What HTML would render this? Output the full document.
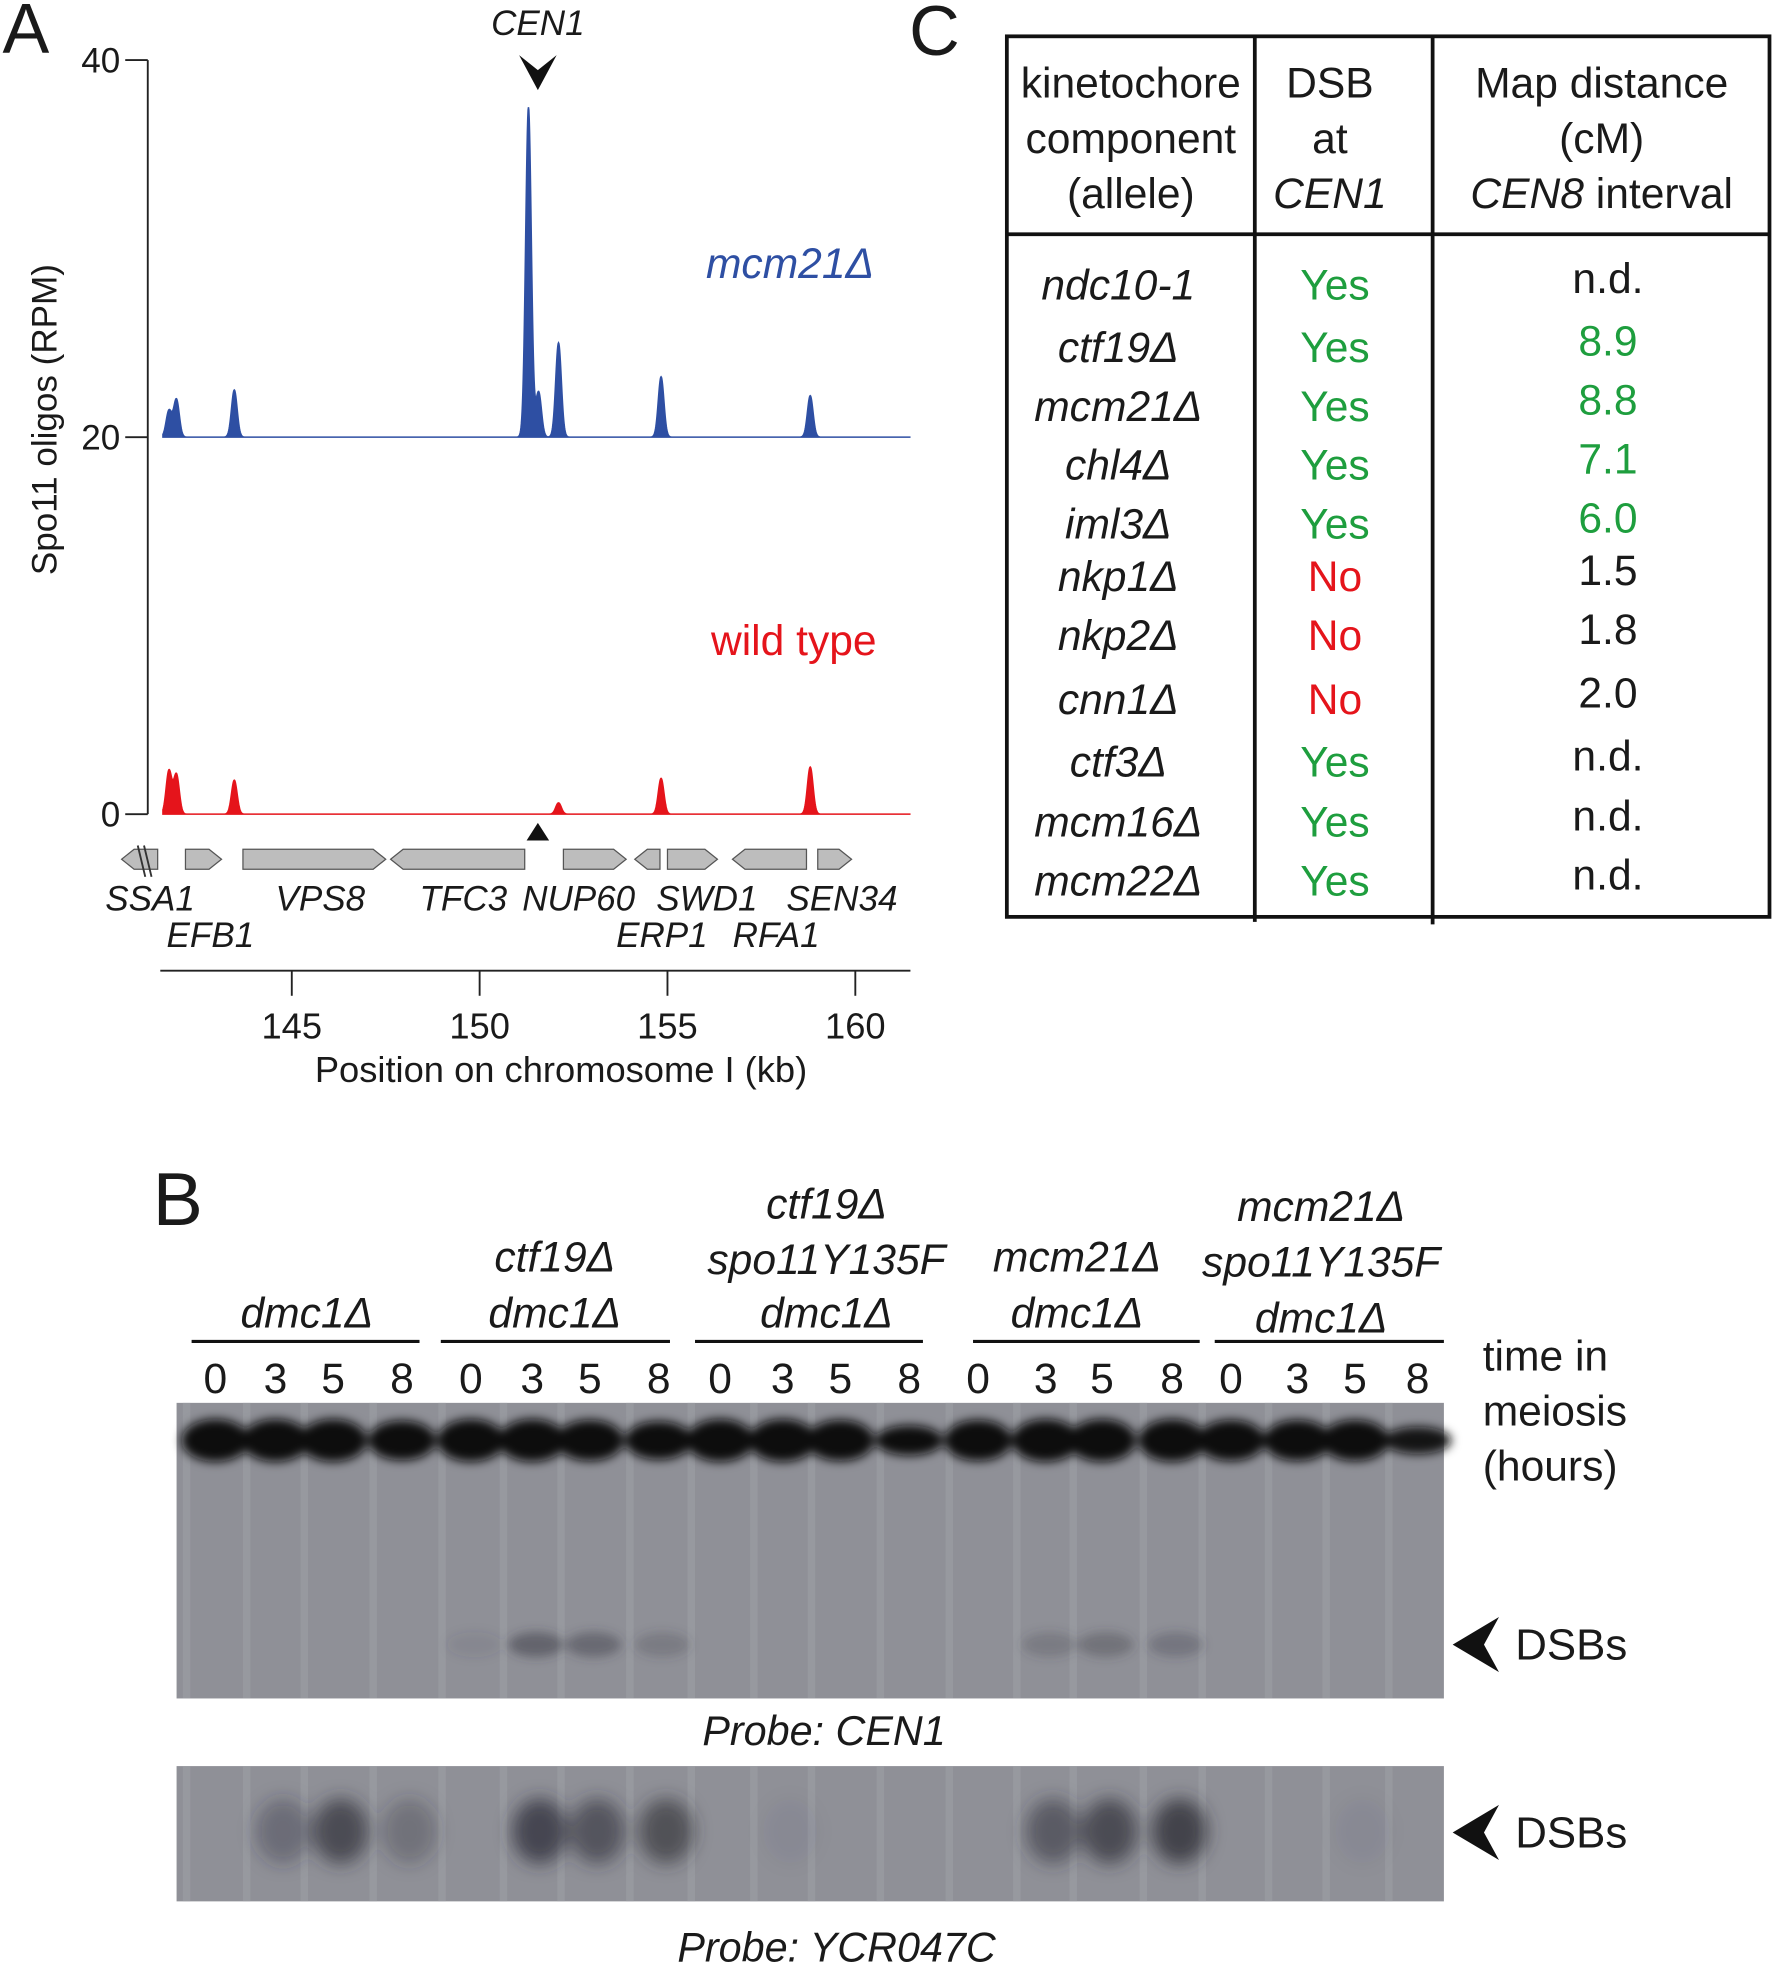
<!DOCTYPE html>
<html><head><meta charset="utf-8"><style>
html,body{margin:0;padding:0;background:#fff}
svg{display:block}
text{font-family:"Liberation Sans",sans-serif;fill:#1a1a1a}
.it{font-style:italic}
</style></head><body>
<svg id="fig" width="1772" height="1964" viewBox="0 0 1415 1568" preserveAspectRatio="none" xmlns="http://www.w3.org/2000/svg">
<defs>
<filter id="blur4" x="-50%" y="-50%" width="200%" height="200%"><feGaussianBlur stdDeviation="4"/></filter>
<filter id="blur8" x="-50%" y="-50%" width="200%" height="200%"><feGaussianBlur stdDeviation="7"/></filter>
</defs>
<text x="2" y="42" font-size="56">A</text>
<g id="panelA"></g>
<text x="726" y="44" font-size="56">C</text>
<g id="panelC"></g>
<text x="122" y="978" font-size="60">B</text>
<g id="panelB"></g>
</svg>
<script>
// ---- Panel A data ----
const blueBase = 20;
const bluePeakPos = [141.73, 141.93, 143.47, 151.3, 151.57, 152.1, 154.83, 158.8];
const bluePeakVal = [1.4, 2.0, 2.5, 17.5, 2.4, 5.0, 3.2, 2.2];
const redBase = 0;
const redPeakPos = [141.73, 141.93, 143.47, 152.1, 154.83, 158.8];
const redPeakVal = [2.3, 2.1, 1.8, 0.6, 1.9, 2.5];
const yTicks = [0, 20, 40];
const xTicks = [145, 150, 155, 160];
const genes = [
 {name:'SSA1', start:140.47, end:141.43, dir:-1, lx:84, ly:727},
 {name:'EFB1', start:142.17, end:143.13, dir:1, lx:133, ly:756},
 {name:'VPS8', start:143.7, end:147.5, dir:1, lx:220, ly:727},
 {name:'TFC3', start:147.63, end:151.2, dir:-1, lx:335, ly:727},
 {name:'NUP60', start:152.23, end:153.9, dir:1, lx:417, ly:727},
 {name:'ERP1', start:154.13, end:154.8, dir:-1, lx:492, ly:756},
 {name:'SWD1', start:155.0, end:156.33, dir:1, lx:524, ly:727},
 {name:'RFA1', start:156.73, end:158.7, dir:-1, lx:585, ly:756},
 {name:'SEN34', start:159.0, end:159.9, dir:1, lx:628, ly:727}
];
const cenPos = 151.55;

const NS='http://www.w3.org/2000/svg';
function mk(tag, attrs, parent, txt){const e=document.createElementNS(NS,tag);for(const k in attrs)e.setAttribute(k,attrs[k]);if(txt!==undefined)e.textContent=txt;parent.appendChild(e);return e;}
const xs = kb => 233 + (kb-145)*30.0;
const ys = v => 650 - v*15.05;

const A = document.getElementById('panelA');
let yAxis = mk('line',{x1:118,y1:ys(40),x2:118,y2:ys(0),stroke:'#222','stroke-width':1.5},A);


yTicks.forEach(t=>{
  let l=mk('line',{x1:100,y1:ys(t),x2:118,y2:ys(t),stroke:'#222','stroke-width':1.5},A);
  
  
  let tx=mk('text',{x:96,y:ys(t)+10,'font-size':28,'text-anchor':'end'},A,String(t));
  
  
});
let yt=mk('text',{x:0,y:0,'font-size':28,'text-anchor':'middle',transform:'translate(45,335) rotate(-90)'},A,'Spo11 oligos (RPM)');



function trace(base, pos, val, color, name){
  const k0=141.57, k1=161.47;
  let d='M'+xs(k0)+','+ys(base);
  const sig=0.075;
  for(let kb=k0; kb<=k1; kb+=0.01){
    let v=base;
    for(let i=0;i<pos.length;i++){const dx=(kb-pos[i])/sig; v+=val[i]*Math.exp(-0.5*dx*dx);}
    d+=' L'+xs(kb).toFixed(2)+','+ys(v).toFixed(2);
  }
  d+=' L'+xs(k1)+','+ys(base)+' Z';
  let p=mk('path',{d:d,fill:color,stroke:color,'stroke-width':1.2},A);
  
  
}
trace(blueBase, bluePeakPos, bluePeakVal, '#2e4fa3', 'mcm21-trace');
trace(redBase, redPeakPos, redPeakVal, '#e5141b', 'wild-type-trace');

let lb=mk('text',{x:698,y:222,'font-size':34,'text-anchor':'end',class:'it'},A,'mcm21Δ');
 
lb.style.fill='#2e4fa3';
let lr=mk('text',{x:700,y:523,'font-size':34,'text-anchor':'end'},A,'wild type');
 
lr.style.fill='#e5141b';
let cl=mk('text',{x:xs(cenPos),y:28,'font-size':28,'text-anchor':'middle',class:'it'},A,'CEN1');
 
let ca=mk('path',{d:`M${xs(cenPos)-15},44 L${xs(cenPos)},56 L${xs(cenPos)+15},44 L${xs(cenPos)},72 Z`,fill:'#111'},A);
 
let ct=mk('path',{d:`M${xs(cenPos)-9},671 L${xs(cenPos)+9},671 L${xs(cenPos)},657 Z`,fill:'#111'},A);
 

genes.forEach(g=>{
  const x0=xs(g.start), x1=xs(g.end), yc=686, h=8, tip=10;
  let d = g.dir>0 ? `M${x0},${yc-h} L${x1-tip},${yc-h} L${x1},${yc} L${x1-tip},${yc+h} L${x0},${yc+h} Z`
                  : `M${x0+tip},${yc-h} L${x1},${yc-h} L${x1},${yc+h} L${x0+tip},${yc+h} L${x0},${yc} Z`;
  let p=mk('path',{d:d,fill:'#bdbdbd',stroke:'#555','stroke-width':1},A);
  
  
  let t=mk('text',{x:g.lx,y:g.ly,'font-size':28,class:'it'},A,g.name);
  
  
});
let brk=mk('path',{d:'M110,675 L116,700 M115,675 L121,700',stroke:'#333','stroke-width':1.5,fill:'none'},A);
 

let xa=mk('line',{x1:128,y1:775,x2:727,y2:775,stroke:'#222','stroke-width':1.5},A);
 
xTicks.forEach(t=>{
  let l=mk('line',{x1:xs(t),y1:775,x2:xs(t),y2:795,stroke:'#222','stroke-width':1.5},A);
   
  let tx=mk('text',{x:xs(t),y:829,'font-size':29,'text-anchor':'middle'},A,String(t));
   
});
let xt=mk('text',{x:448,y:864,'font-size':29,'text-anchor':'middle'},A,'Position on chromosome I (kb)');
 

// ---- Panel C data ----
const alleles = ['ndc10-1','ctf19Δ','mcm21Δ','chl4Δ','iml3Δ','nkp1Δ','nkp2Δ','cnn1Δ','ctf3Δ','mcm16Δ','mcm22Δ'];
const dsb = ['Yes','Yes','Yes','Yes','Yes','No','No','No','Yes','Yes','Yes'];
const mapDist = ['n.d.','8.9','8.8','7.1','6.0','1.5','1.8','2.0','n.d.','n.d.','n.d.'];
const rowY = [227,277,324,371,418,460,507,558,608,656,703];
const C=document.getElementById('panelC');
let box=mk('rect',{x:804,y:29,width:609,height:703,fill:'none',stroke:'#111','stroke-width':3},C);
 
[[1002,736],[1144,738]].forEach(([x,y2])=>{let l=mk('line',{x1:x,y1:29,x2:x,y2:y2,stroke:'#111','stroke-width':3},C);
  });
let hl=mk('line',{x1:804,y1:187,x2:1413,y2:187,stroke:'#111','stroke-width':3},C);
 
const hdr=[[903,['kinetochore','component','(allele)'],[0,0,0]],[1062,['DSB','at','CEN1'],[0,0,1]],[1279,['Map distance','(cM)','CEN8 interval'],[0,0,2]]];
hdr.forEach(([x,lines,st])=>{lines.forEach((s,i)=>{
  let t=mk('text',{x:x,y:78+i*44,'font-size':34,'text-anchor':'middle'},C);
  if(st[i]===1){t.setAttribute('class','it');t.textContent=s;}
  else if(st[i]===2){mk('tspan',{class:'it'},t,'CEN8');mk('tspan',{},t,' interval');}
  else t.textContent=s;
   
});});
alleles.forEach((a,i)=>{
  let t=mk('text',{x:893,y:rowY[i]+12,'font-size':34,'text-anchor':'middle',class:'it'},C,a);
   
  let d=mk('text',{x:1066,y:rowY[i]+12,'font-size':34,'text-anchor':'middle'},C,dsb[i]);
  d.style.fill = dsb[i]==='Yes' ? '#1e9e3e' : '#e5141b';
   
  let m=mk('text',{x:1284,y:rowY[i]+7,'font-size':34,'text-anchor':'middle'},C,mapDist[i]);
  if(i>=1&&i<=4) m.style.fill='#1e9e3e';
   
});

// ---- Panel B data ----
const laneX = [172,220,266,321,376,425,471,526,575,625,671,726,781,835,880,936,983,1036,1082,1132];
const laneTime = ['0','3','5','8','0','3','5','8','0','3','5','8','0','3','5','8','0','3','5','8'];
const topBand = [1,1,1,0.9,1,1,0.95,0.85,1,1,0.95,0.55,0.95,1,1,1,0.95,0.95,0.95,0.45];
const cenDSB = [0,0,0,0,0.1,0.5,0.45,0.25,0,0,0,0,0,0.25,0.35,0.3,0,0,0,0];
const ycrDSB = [0,0.35,0.7,0.3,0,0.75,0.6,0.65,0,0.05,0,0,0,0.55,0.7,0.8,0,0,0.05,0];
const groupLines = [[153,335],[352,535],[555,737],[777,958],[970,1153]];
const groupLabels = [[245,[['dmc1Δ',1048]]],[443,[['ctf19Δ',1003],['dmc1Δ',1048]]],[660,[['ctf19Δ',961],['spo11Y135F',1005],['dmc1Δ',1048]]],[860,[['mcm21Δ',1003],['dmc1Δ',1048]]],[1055,[['mcm21Δ',963],['spo11Y135F',1007],['dmc1Δ',1052]]]];
const B=document.getElementById('panelB');
groupLines.forEach(([a,b])=>{let l=mk('line',{x1:a,y1:1071,x2:b,y2:1071,stroke:'#111','stroke-width':2.5},B);
  });
groupLabels.forEach(([x,ls])=>ls.forEach(([s,y])=>{let t=mk('text',{x:x,y:y+12,'font-size':34,'text-anchor':'middle',class:'it'},B,s);
  }));
laneX.forEach((x,i)=>{let t=mk('text',{x:x,y:1112,'font-size':34,'text-anchor':'middle'},B,laneTime[i]);
  });
['time in','meiosis','(hours)'].forEach((s,i)=>{let t=mk('text',{x:1184,y:1094+i*44,'font-size':34},B,s);
  });
function gel(y0,h,name){
  let g=mk('g',{},B);  
  mk('rect',{x:141,y:y0,width:1012,height:h,fill:'#8f9097'},g);
  laneX.forEach(x=>{mk('rect',{x:x-26,y:y0,width:6,height:h,fill:'#a0a1a8',opacity:0.5},g);});
  return g;
}
let g1=gel(1120,236,'cen1-blot');
let gb=mk('g',{filter:'url(#blur4)'},g1);
laneX.forEach((x,i)=>{let e=mk('ellipse',{cx:x,cy:1150,rx:27,ry:6+11*topBand[i],fill:'#0d0d10',opacity:Math.min(1,0.5+topBand[i])},gb);
  });
let gd=mk('g',{filter:'url(#blur4)'},g1);
laneX.forEach((x,i)=>{let e=mk('ellipse',{cx:x+3,cy:1313,rx:22,ry:10,fill:'#3a3a44',opacity:cenDSB[i]},gd);
  });
let g2=gel(1410,108,'ycr047c-blot');
let gd2=mk('g',{filter:'url(#blur8)'},g2);
laneX.forEach((x,i)=>{let e=mk('ellipse',{cx:x+6,cy:1462,rx:22,ry:26,fill:'#2e2e38',opacity:ycrDSB[i]},gd2);
  });
[[1313],[1463]].forEach(([y])=>{
  let a=mk('path',{d:`M1160,${y} L1197,${y-22} L1185,${y} L1197,${y+22} Z`,fill:'#111'},B);
   
  let t=mk('text',{x:1210,y:y+12,'font-size':35},B,'DSBs');
   
});
let p1=mk('text',{x:658,y:1393,'font-size':33,'text-anchor':'middle',class:'it'},B,'Probe: CEN1');
 
let p2=mk('text',{x:668,y:1566,'font-size':33,'text-anchor':'middle',class:'it'},B,'Probe: YCR047C');
 
</script>
</body></html>
